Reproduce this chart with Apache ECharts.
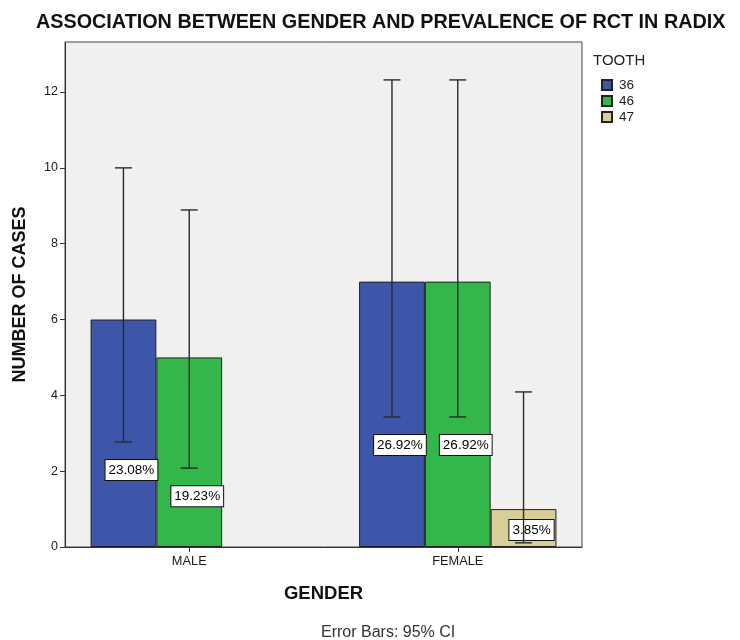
<!DOCTYPE html>
<html>
<head>
<meta charset="utf-8">
<script src="https://cdn.jsdelivr.net/npm/echarts@6/dist/echarts.min.js"></script>
<style>
html,body{margin:0;padding:0;background:#fff;}
#chart{width:740px;height:640px;}
</style>
</head>
<body>
<div id="chart"></div>
<script>
const categories = ['MALE', 'FEMALE'];
const teeth = ['36', '46', '47'];
const counts36 = [6, 7];
const counts46 = [5, 7];
const counts47 = [null, 1];
const ciLow36 = [2.77, 3.43];
const ciHigh36 = [10.0, 12.32];
const ciLow46 = [2.08, 3.43];
const ciHigh46 = [8.89, 12.32];
const ciLow47 = [null, 0.11];
const ciHigh47 = [null, 4.09];
const pct36 = ['23.08%', '26.92%'];
const pct46 = ['19.23%', '26.92%'];
const pct47 = [null, '3.85%'];
const yTicks = [0, 2, 4, 6, 8, 10, 12];
const xTicks = [0, 1];

const colors = ['#3d56aa', '#33b74a', '#d8cf98'];
const FONT = "'Liberation Sans', Arial, sans-serif";

const countsAll = [counts36, counts46, counts47];
const lowAll = [ciLow36, ciLow46, ciLow47];
const highAll = [ciHigh36, ciHigh46, ciHigh47];
const pctAll = [pct36, pct46, pct47];

const GAP = 0.265;
const series = [];
teeth.forEach((t, s) => {
  const data = [];
  countsAll[s].forEach((v, i) => { if (v != null) data.push([i, v]); });
  series.push({
    name: t, type: 'bar', data: data,
    barGap: '0%', barCategoryGap: (GAP * 100) + '%',
    itemStyle: { color: colors[s], borderColor: '#222', borderWidth: 1 },
    emphasis: { disabled: true }, z: 2
  });
});
teeth.forEach((t, s) => {
  const data = [], labels = [];
  countsAll[s].forEach((v, i) => {
    if (v != null) { data.push([i, lowAll[s][i], highAll[s][i]]); labels.push(pctAll[s][i]); }
  });
  series.push({
    type: 'custom', data: data, z: 5, silent: true,
    encode: { x: 0, y: [1, 2] },
    renderItem: function (params, api) {
      const x = api.value(0), lo = api.value(1), hi = api.value(2);
      const band = api.size([1, 0])[0];
      const w = band * (1 - GAP) / 3;
      const p0 = api.coord([x, 0]);
      const cx = p0[0] + (s - 1) * w;
      const yLo = api.coord([x, lo])[1];
      const yHi = api.coord([x, hi])[1];
      const cap = 8.5;
      const ls = { stroke: '#2a2a2a', lineWidth: 1.4 };
      const labelY = Math.min(yLo + 28, p0[1] - 17);
      return {
        type: 'group',
        children: [
          { type: 'text', style: {
              text: labels[params.dataIndex], x: cx + 8, y: labelY,
              align: 'center', verticalAlign: 'middle',
              font: '13.5px ' + FONT, fill: '#000',
              backgroundColor: '#fff', borderColor: '#111', borderWidth: 1,
              padding: [3, 3, 3, 3] } },
          { type: 'line', shape: { x1: cx, y1: yLo, x2: cx, y2: yHi }, style: ls },
          { type: 'line', shape: { x1: cx - cap, y1: yHi, x2: cx + cap, y2: yHi }, style: ls },
          { type: 'line', shape: { x1: cx - cap, y1: yLo, x2: cx + cap, y2: yLo }, style: ls }
        ]
      };
    }
  });
});

const chart = echarts.init(document.getElementById('chart'), null, { renderer: 'canvas' });
chart.setOption({
  animation: false,
  backgroundColor: '#fff',
  title: [
    { text: 'ASSOCIATION BETWEEN GENDER AND PREVALENCE OF RCT IN RADIX', left: 31, top: 8,
      textStyle: { fontFamily: FONT, fontSize: 19.8, fontWeight: 'bold', color: '#111' } },
    { text: 'TOOTH', left: 588, top: 48,
      textStyle: { fontFamily: FONT, fontSize: 15, fontWeight: 'normal', color: '#222' } },
    { text: 'Error Bars: 95% CI', left: 316, top: 620,
      textStyle: { fontFamily: FONT, fontSize: 16, fontWeight: 'normal', color: '#333' } }
  ],
  legend: {
    orient: 'vertical', left: 596, top: 73, itemWidth: 10, itemHeight: 10, itemGap: 2,
    icon: 'rect', data: teeth,
    textStyle: { fontFamily: FONT, fontSize: 13.5, color: '#222', padding: [0, 0, 0, 2] },
    selectedMode: false
  },
  grid: { left: 65, top: 42, right: 158, bottom: 93, show: true,
    backgroundColor: '#f0f0f0', borderColor: '#444', borderWidth: 1 },
  xAxis: {
    type: 'value', min: -0.4627, max: 1.4627,
    name: 'GENDER', nameLocation: 'middle', nameGap: 37,
    nameTextStyle: { fontFamily: FONT, fontSize: 18.5, fontWeight: 'bold', color: '#111' },
    axisLine: { show: true, onZero: false, lineStyle: { color: '#333', width: 1 } },
    axisTick: { show: true, length: 5, customValues: xTicks, lineStyle: { color: '#333' } },
    axisLabel: { customValues: xTicks, formatter: v => categories[Math.round(v)],
      fontFamily: FONT, fontSize: 12.8, color: '#1a1a1a', margin: 8 },
    splitLine: { show: false }
  },
  yAxis: {
    type: 'value', min: 0, max: 13.32,
    name: 'NUMBER OF CASES', nameLocation: 'middle', nameGap: 36,
    nameTextStyle: { fontFamily: FONT, fontSize: 18, fontWeight: 'bold', color: '#111' },
    axisLine: { show: true, onZero: false, lineStyle: { color: '#333', width: 1 } },
    axisTick: { show: true, length: 5, customValues: yTicks, lineStyle: { color: '#333' } },
    axisLabel: { customValues: yTicks, fontFamily: FONT, fontSize: 12.5, color: '#1a1a1a', margin: 7 },
    splitLine: { show: false }
  },
  series: series
});
</script>
</body>
</html>
